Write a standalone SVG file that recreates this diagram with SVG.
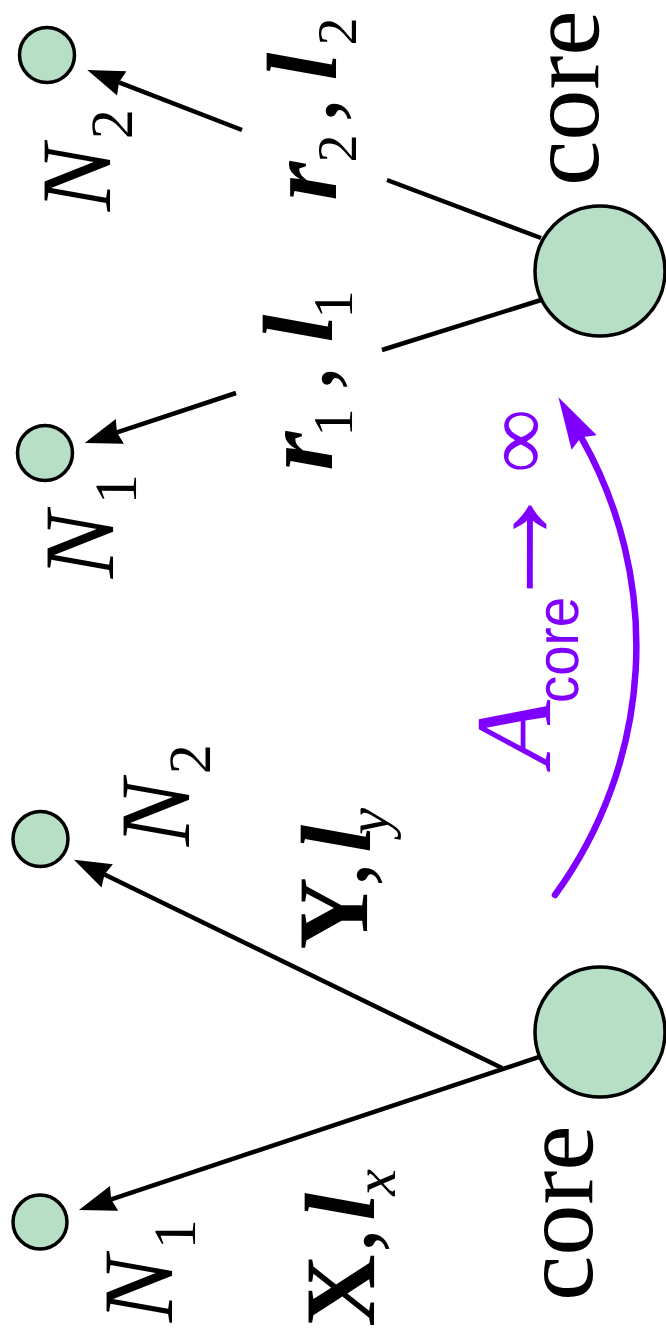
<svg xmlns="http://www.w3.org/2000/svg" width="666" height="1337" viewBox="0 0 666 1337">
<style>
.node{fill:#b7dfc6;stroke:#000;stroke-width:3.5}
.edge{fill:none;stroke:#000;stroke-width:4.5}
.arc{fill:none;stroke:#8000ff;stroke-width:6.5;stroke-linecap:round}
</style>
<defs>
<marker id="ah" markerUnits="userSpaceOnUse" markerWidth="38" markerHeight="27" refX="3" refY="13" orient="auto">
<path d="M0,0 L37,13 L0,26 L3,13 z" fill="#000"/>
</marker>
<marker id="ahp" markerUnits="userSpaceOnUse" markerWidth="53" markerHeight="30" refX="6" refY="14.5" orient="auto">
<path d="M0,0 L52,14.5 L0,29 L6,14.5 z" fill="#8000ff"/>
</marker>
</defs>
<g id="connectors">
<line class="edge" x1="242" y1="130" x2="119" y2="82.3" marker-end="url(#ah)"/>
<line class="edge" x1="236" y1="393" x2="117" y2="432.4" marker-end="url(#ah)"/>
<line class="edge" x1="541" y1="238" x2="387" y2="180"/>
<line class="edge" x1="541" y1="300" x2="382" y2="350"/>
<line class="edge" x1="540" y1="1056.7" x2="111.2" y2="1199.3" marker-end="url(#ah)"/>
<line class="edge" x1="502" y1="1068" x2="104.5" y2="874.6" marker-end="url(#ah)"/>
<path class="arc" d="M555,895 A422,422 0 0 0 581.2,437.3" marker-end="url(#ahp)"/>
</g>
<g id="core-top"><circle class="node" cx="600" cy="271" r="65"/></g>
<g id="n2-top"><circle class="node" cx="47" cy="55" r="27.5"/></g>
<g id="n1-top"><circle class="node" cx="45" cy="453" r="27.5"/></g>
<g id="core-bottom"><circle class="node" cx="600" cy="1032" r="65"/></g>
<g id="n2-bottom"><circle class="node" cx="40.5" cy="839" r="27.5"/></g>
<g id="n1-bottom"><circle class="node" cx="40" cy="1222" r="27"/></g>
<g id="labels" transform="rotate(-89.9)" font-family="Liberation Serif, serif" fill="#000">
<text font-family="Liberation Serif, serif" font-size="102" x="-185" y="598.3">core</text>
<text font-family="Liberation Serif, serif" font-size="102" x="-1300" y="594.3">core</text>
<text font-family="Liberation Serif, serif" font-size="100" font-style="italic" x="-211" y="110.4">N</text>
<text font-family="Liberation Serif, serif" font-size="60" x="-139" y="132.2">2</text>
<text font-family="Liberation Serif, serif" font-size="100" font-style="italic" x="-578" y="114">N</text>
<text font-family="Liberation Serif, serif" font-size="60" x="-504" y="136.9">1</text>
<text font-family="Liberation Serif, serif" font-size="100" font-style="italic" x="-846" y="190.5">N</text>
<text font-family="Liberation Serif, serif" font-size="60" x="-774" y="211.4">2</text>
<text font-family="Liberation Serif, serif" font-size="100" font-style="italic" x="-1322" y="174.3">N</text>
<text font-family="Liberation Serif, serif" font-size="60" x="-1249" y="197.2">1</text>
<text font-family="Liberation Serif, serif" font-size="100" font-style="italic" font-weight="bold" x="-470" y="332.8">r</text>
<text font-family="Liberation Serif, serif" font-size="56" x="-436" y="352.8">1</text>
<text font-family="Liberation Serif, serif" font-size="100" x="-390" y="332.7">,</text>
<text font-family="Liberation Serif, serif" font-size="100" font-style="italic" font-weight="bold" x="-342" y="332.6">l</text>
<text font-family="Liberation Serif, serif" font-size="56" x="-318" y="352.6">1</text>
<text font-family="Liberation Serif, serif" font-size="100" font-style="italic" font-weight="bold" x="-200" y="336.3">r</text>
<text font-family="Liberation Serif, serif" font-size="56" x="-162" y="356.3">2</text>
<text font-family="Liberation Serif, serif" font-size="100" x="-122" y="336.2">,</text>
<text font-family="Liberation Serif, serif" font-size="100" font-style="italic" font-weight="bold" x="-80" y="336.1">l</text>
<text font-family="Liberation Serif, serif" font-size="56" x="-45" y="356.1">2</text>
<text font-family="Liberation Serif, serif" font-size="100" font-weight="bold" x="-949" y="368.7">Y</text>
<text font-family="Liberation Serif, serif" font-size="100" x="-886" y="368.5">,</text>
<text font-family="Liberation Serif, serif" font-size="100" font-style="italic" font-weight="bold" x="-852" y="371.5">l</text>
<text font-family="Liberation Serif, serif" font-size="60" font-style="italic" x="-834" y="389.5">y</text>
<text font-family="Liberation Serif, serif" font-size="100" font-weight="bold" x="-1326" y="376.3">X</text>
<text font-family="Liberation Serif, serif" font-size="100" x="-1252" y="376.2">,</text>
<text font-family="Liberation Serif, serif" font-size="100" font-style="italic" font-weight="bold" x="-1220" y="376.1">l</text>
<text font-family="Liberation Serif, serif" font-size="60" font-style="italic" x="-1195" y="397.1">x</text>
<text font-family="Liberation Serif, serif" fill="#8000ff" font-size="108" font-style="italic" x="-765" y="551.3">A</text>
<text font-family="Liberation Sans, sans-serif" fill="#8000ff" font-size="60" x="-702" y="579.2" textLength="106" lengthAdjust="spacingAndGlyphs">core</text>
<text font-family="Liberation Serif, serif" fill="#8000ff" font-size="140" x="-616" y="554">→</text>
<text font-family="Liberation Serif, serif" fill="#8000ff" font-size="90" x="-472" y="547.8">∞</text>
</g>
</svg>
